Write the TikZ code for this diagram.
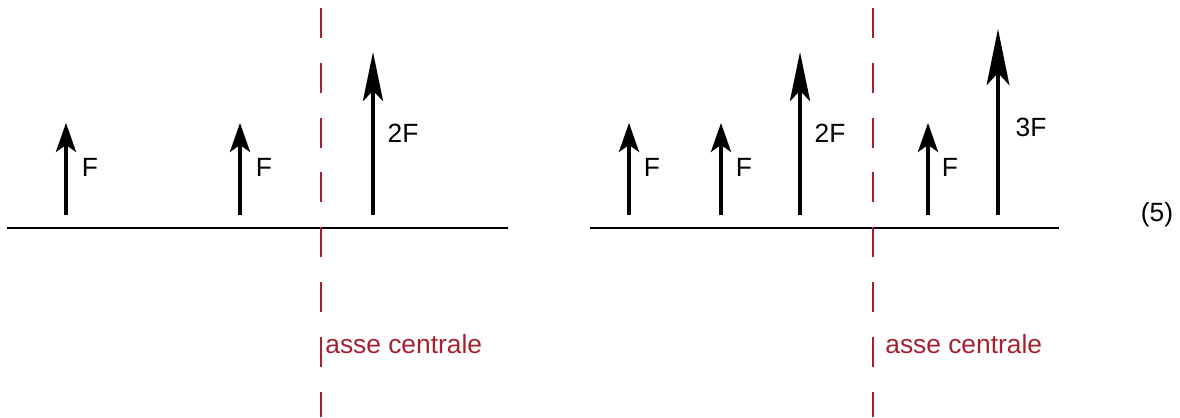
\documentclass[tikz,border=0pt]{standalone}
\usepackage{fontspec}
\setmainfont{Liberation Sans}
\usetikzlibrary{arrows.meta}
\definecolor{axisred}{RGB}{168,32,48}
\tikzset{
  px/.style={x=0.02cm,y=-0.02cm},
  ground/.style={line width=1.4pt,black},
  axisline/.style={line width=0.7pt,axisred,dash pattern=on 17pt off 14.2pt},
  axislabel/.style={text=axisred,font=\fontsize{15}{18}\selectfont,anchor=base west,inner sep=0pt},
  forcelabel/.style={font=\fontsize{15}{18}\selectfont,inner sep=0pt},
  small/.style={line width=1.9pt,-{Stealth[length=16.5pt,width=11.5pt,inset=4pt]}},
  mid/.style={line width=1.9pt,-{Stealth[length=28pt,width=11.5pt,inset=6pt]}},
  big/.style={line width=1.9pt,-{Stealth[length=32pt,width=13pt,inset=7pt]}},
}
\begin{document}
\begin{tikzpicture}[px]
\useasboundingbox (0,0) rectangle (1180,417);
% left diagram
\coordinate (L0) at (7,228);
\coordinate (L1) at (508,228);
\draw[ground] (L0) -- (L1);
\coordinate (LaxT) at (321,8);
\coordinate (LaxB) at (321,417);
\draw[axisline] (LaxT) -- (LaxB);
\node[axislabel] (Llab) at (325,353) {asse centrale};
\coordinate (La1) at (66,215);  \coordinate (La1t) at (66,123);
\coordinate (La2) at (240,215); \coordinate (La2t) at (240,123);
\coordinate (La3) at (373,215); \coordinate (La3t) at (373,52);
\draw[small] (La1) -- (La1t);
\draw[small] (La2) -- (La2t);
\draw[mid] (La3) -- (La3t);
\node[forcelabel] (Lf1) at (90,167) {F};
\node[forcelabel] (Lf2) at (264,167) {F};
\node[forcelabel] (Lf3) at (403,133) {2F};
% right diagram
\coordinate (R0) at (590,228);
\coordinate (R1) at (1059,228);
\draw[ground] (R0) -- (R1);
\coordinate (RaxT) at (873,8);
\coordinate (RaxB) at (873,417);
\draw[axisline] (RaxT) -- (RaxB);
\node[axislabel] (Rlab) at (885,353) {asse centrale};
\coordinate (Ra1) at (629,215);  \coordinate (Ra1t) at (629,123);
\coordinate (Ra2) at (721,215);  \coordinate (Ra2t) at (721,123);
\coordinate (Ra3) at (800,215);  \coordinate (Ra3t) at (800,52);
\coordinate (Ra4) at (928,215);  \coordinate (Ra4t) at (928,123);
\coordinate (Ra5) at (998,215);  \coordinate (Ra5t) at (998,29);
\draw[small] (Ra1) -- (Ra1t);
\draw[small] (Ra2) -- (Ra2t);
\draw[mid] (Ra3) -- (Ra3t);
\draw[small] (Ra4) -- (Ra4t);
\draw[big] (Ra5) -- (Ra5t);
\node[forcelabel] (Rf1) at (652,167) {F};
\node[forcelabel] (Rf2) at (744,167) {F};
\node[forcelabel] (Rf3) at (830,133) {2F};
\node[forcelabel] (Rf4) at (950,167) {F};
\node[forcelabel] (Rf5) at (1031,127) {3F};
\node[forcelabel] (eq) at (1157,215) {(5)};
\end{tikzpicture}
\end{document}
